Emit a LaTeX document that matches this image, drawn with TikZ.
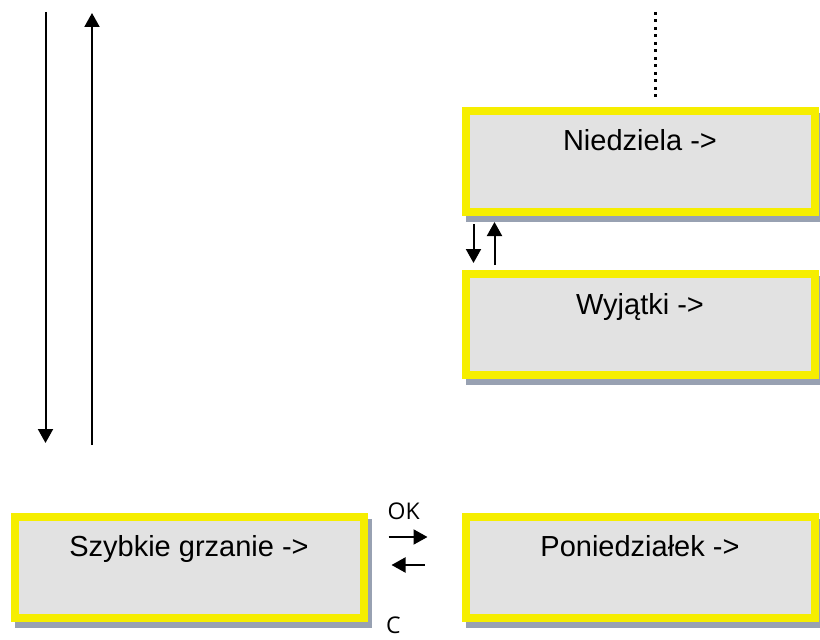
\documentclass[tikz,border=0pt]{standalone}
\usepackage{fontspec}
\setmainfont{Liberation Sans}
\newfontfamily\keyfont{Open Sans}
\usetikzlibrary{arrows.meta,positioning}

\definecolor{menuyellow}{RGB}{246,238,0}
\definecolor{menugray}{RGB}{226,226,226}
\definecolor{shadowgray}{RGB}{152,161,178}

\begin{document}
\begin{tikzpicture}[->,>={Triangle[length=7pt,width=7.5pt]},line width=1pt,
                    menu node/.style={rectangle,draw=menuyellow,line width=4pt,fill=menugray,
                      minimum width=174.5pt,minimum height=50.5pt,text height=10pt,text depth=20.5pt,
                      font=\fontsize{14.5pt}{16pt}\selectfont,
                      preaction={draw=shadowgray,fill=shadowgray,transform canvas={shift={(2pt,-3pt)}}}},
                    key/.style={font=\keyfont\fontsize{11.5pt}{13pt}\selectfont},
                    dot line/.style={-,line width=1.5pt,dash pattern=on 1.5pt off 2.25pt}]

  \useasboundingbox (0,0) rectangle (410pt,319.5pt);

  % menu screens
  \node[menu node] (szybkie) at (94.5pt,36pt) {Szybkie grzanie ->};
  \node[menu node] (pon) [right of=szybkie,node distance=225.5pt] {Poniedziałek ->};
  \node[menu node] (wyjatki) [above of=pon,node distance=121.25pt] {Wyjątki ->};
  \node[menu node] (niedziela) [above of=wyjatki,node distance=81.5pt] {Niedziela ->};

  % free ends
  \coordinate (down top) at (22.75pt,313.5pt);
  \coordinate (down end) at (22.75pt,98pt);
  \coordinate (up start) at (46pt,97pt);
  \coordinate (up end) at (46pt,313pt);
  \coordinate (dots top) at (327.5pt,313.5pt);

  \draw (down top) -- (down end);
  \draw (up start) -- (up end);
  \draw[dot line,shorten >=3.5pt] (dots top) -- ([xshift=7.5pt]niedziela.north);

  \draw[shorten <=4pt,shorten >=3.5pt] ([xshift=6pt]niedziela.south west) -- ([xshift=6pt]wyjatki.north west);
  \draw[shorten <=2.5pt,shorten >=3pt] ([xshift=16.5pt]wyjatki.north west) -- ([xshift=16.5pt]niedziela.south west);

  \draw[shorten <=10.5pt,shorten >=17pt] ([yshift=15pt]szybkie.east)
        -- node[key,pos=0.384,above=4.6pt] {OK} ([yshift=15pt]pon.west);
  \draw[shorten <=18.5pt,shorten >=12pt] ([yshift=1pt]pon.west)
        -- node[key,pos=0.726,below=22.3pt] {C} ([yshift=1pt]szybkie.east);
\end{tikzpicture}
\end{document}
